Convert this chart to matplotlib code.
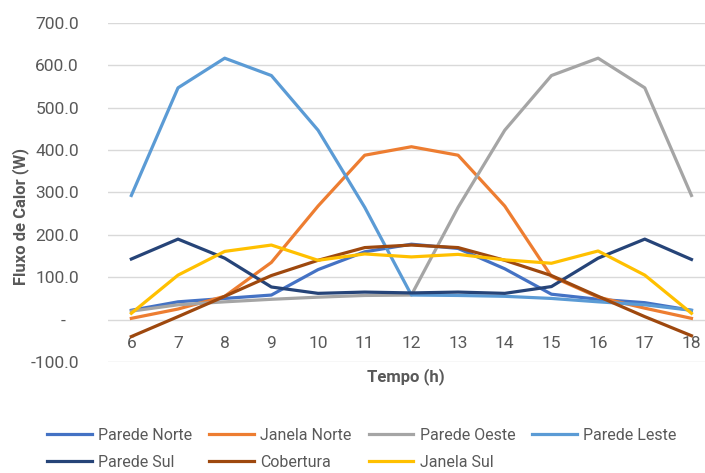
import matplotlib.pyplot as plt
from matplotlib.ticker import FuncFormatter

plt.rcParams['font.family'] = ['Roboto', 'DejaVu Sans']

horas = list(range(6, 19))

parede_norte = [22, 42, 50, 58, 118, 160, 178, 168, 120, 60, 48, 40, 22]
janela_norte = [3, 25, 55, 135, 268, 388, 408, 388, 268, 102, 53, 27, 3]
parede_oeste = [20, 35, 42, 48, 53, 57, 58, 265, 447, 576, 617, 547, 293]
parede_leste = [293, 547, 617, 576, 447, 265, 58, 57, 55, 50, 42, 35, 22]
parede_sul = [143, 190, 145, 77, 62, 65, 63, 65, 62, 78, 145, 190, 142]
cobertura = [-40, 7, 55, 104, 140, 170, 176, 170, 140, 104, 55, 7, -38]
janela_sul = [15, 105, 161, 176, 140, 155, 148, 154, 141, 133, 162, 105, 15]

series = [
    ('Parede Norte', parede_norte, '#4472C4'),
    ('Janela Norte', janela_norte, '#ED7D31'),
    ('Parede Oeste', parede_oeste, '#A5A5A5'),
    ('Parede Leste', parede_leste, '#5B9BD5'),
    ('Parede Sul', parede_sul, '#264478'),
    ('Cobertura', cobertura, '#9E480E'),
    ('Janela Sul', janela_sul, '#FFC000'),
]

texto = '#595959'

fig = plt.figure(figsize=(7.05, 4.73), dpi=100)
ax = fig.add_axes([108 / 705, 111 / 473, 597 / 705, 339 / 473])

linhas = {}
for nome, valores, cor in series:
    linhas[nome], = ax.plot(horas, valores, color=cor, lw=2.3, label=nome,
                           solid_joinstyle='round')

ax.set_xlim(5.5, 18.29)
ax.set_ylim(-100, 700)
ax.set_xticks(horas)
ax.set_yticks(range(-100, 701, 100))
ax.yaxis.set_major_formatter(FuncFormatter(
    lambda v, p: '-   ' if v == 0 else '%.1f' % v))

ax.grid(axis='y', color='#D9D9D9', lw=1)
ax.set_axisbelow(True)
for s in ax.spines.values():
    s.set_visible(False)
ax.spines['bottom'].set_position(('data', 0))
ax.tick_params(length=0, labelsize=12.5, labelcolor=texto)
ax.tick_params(axis='y', pad=21)
ax.tick_params(axis='x', pad=12)

fig.text(406 / 705, 1 - 377 / 473, 'Tempo (h)', ha='center', va='center',
         fontsize=12, fontweight='bold', color=texto)
fig.text(21 / 705, 1 - 216 / 473, 'Fluxo de Calor (W)', ha='center',
         va='center', rotation=90, fontsize=12, fontweight='bold', color=texto)

# legenda em 4 colunas, preenchida por coluna
ordem = ['Parede Norte', 'Parede Sul', 'Janela Norte', 'Cobertura',
         'Parede Oeste', 'Janela Sul', 'Parede Leste']
fig.legend([linhas[n] for n in ordem], ordem, ncol=4, loc='center',
           bbox_to_anchor=(362 / 705, 1 - 449 / 473), frameon=False,
           fontsize=11.5, labelcolor=texto, handlelength=2.8,
           handletextpad=0.4, columnspacing=1.05, labelspacing=0.75)

fig.savefig('out.png', dpi=100)
